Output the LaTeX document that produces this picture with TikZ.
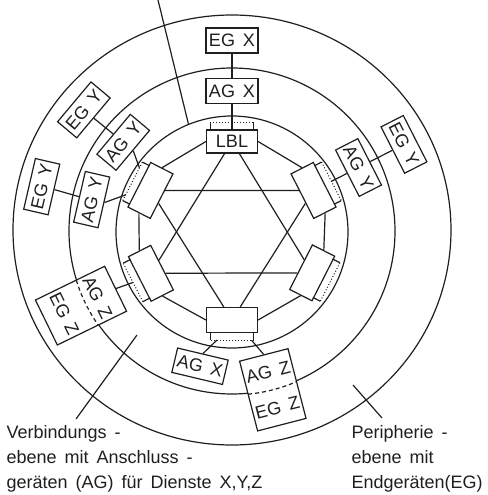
\documentclass[tikz,border=0pt]{standalone}
\usepackage{fontspec}
\setmainfont[WordSpace=1.6]{Liberation Sans}
\usetikzlibrary{calc}
\begin{document}
\begin{tikzpicture}[x=1bp,y=1bp,line width=1.2bp,
  ink/.style={draw=black!88},
  hexbox/.style={draw=black!88,fill=white,minimum width=50bp,minimum height=25bp,inner sep=0pt},
  stripbox/.style={draw=none,minimum width=42bp,minimum height=7bp,inner sep=0pt},
  agbox/.style={draw=black!88,fill=white,minimum width=52bp,minimum height=25bp,inner sep=0pt,
    font=\fontsize{18bp}{18bp}\selectfont,text=black!88},
  zbox/.style={draw=black!88,fill=white,minimum width=50bp,inner sep=0pt,align=center,
    font=\fontsize{18bp}{37bp}\selectfont,text=black!88},
  lbltext/.style={align=left,inner sep=0pt,font=\fontsize{18bp}{25bp}\selectfont,text=black!88},
  dotline/.style={draw=black!88,dotted,line width=1bp},
  zdash/.style={draw=black!88,dash pattern=on 4bp off 3bp}]
\useasboundingbox (-232,232) rectangle (256,-263);
\fill[white] (-232,232) rectangle (256,-263);
% rings
\draw[ink] (0,2) ellipse[x radius=219,y radius=215];
\draw[ink] (0,1) circle[radius=163];
\draw[ink] (0,0) circle[radius=116];
% hexagon boxes
\node[hexbox,minimum width=51bp,minimum height=23bp,font=\fontsize{18bp}{18bp}\selectfont,text=black!88] (LBL) at (90:90.5) {LBL};
\node[hexbox,rotate=-63] (UR) at (27:91.5) {};
\node[hexbox,rotate=-117] (LR) at (-27:90) {};
\node[hexbox,rotate=180,minimum width=51bp] (B) at (270:88) {};
\node[hexbox,rotate=117] (LL) at (207:91) {};
\node[hexbox,rotate=63] (UL) at (153:91.5) {};
% strips
\node[stripbox] (sLBL) at (90:105.5) {};
\node[stripbox,rotate=-63] (sUR) at (27:107.5) {};
\node[stripbox,rotate=-117] (sLR) at (-27:106) {};
\node[stripbox,rotate=180] (sB) at (270:104) {};
\node[stripbox,rotate=117] (sLL) at (207:107) {};
\node[stripbox,rotate=63] (sUL) at (153:107.5) {};
\foreach \s in {sLBL,sUR,sLR,sB,sLL,sUL}{
  \draw[ink] (\s.south west) -- (\s.north west);
  \draw[ink] (\s.south east) -- (\s.north east);
  \draw[dotline] (\s.north west) -- (\s.north east);
}
% hexagon ring
\draw[ink] (LBL.west) -- (UL.east);
\draw[ink] (UL.west) -- (LL.east);
\draw[ink] (LL.west) -- (B.east);
\draw[ink] (B.west) -- (LR.east);
\draw[ink] (LR.west) -- (UR.east);
\draw[ink] (UR.west) -- (LBL.east);
% star
\draw[ink] (LBL) -- (LL);
\draw[ink] (LL) -- (LR);
\draw[ink] (LR) -- (LBL);
\draw[ink] (B) -- (UL);
\draw[ink] (UL) -- (UR);
\draw[ink] (UR) -- (B);
% terminal boxes
\node[agbox] (AGX) at (90:141) {AG X};
\node[agbox] (EGX) at (90:191.5) {EG X};
\node[agbox,rotate=-63] (AGYr) at (27:142) {AG Y};
\node[agbox,rotate=-63] (EGYr) at (27:193) {EG Y};
\node[agbox,rotate=50] (AGYul) at (140.5:141) {AG Y};
\node[agbox,rotate=50] (EGYul) at (140.5:192) {EG Y};
\node[agbox,rotate=77] (AGYll) at (167:144) {AG Y};
\node[agbox,rotate=77] (EGYll) at (166.6:195.6) {EG Y};
\node[agbox,rotate=-13.4] (AGXb) at (256.6:138) {AG X};
% combined Z boxes (AG part inside, EG part outside the middle ring)
\node[zbox,rotate=-64,minimum height=77bp] (ZL) at (206:168) {AG Z\\EG Z};
\draw[zdash] (197.2:163) arc[start angle=197.2,end angle=214.8,radius=163];
\node[zbox,rotate=14.5,minimum height=72bp] (ZR) at (284.5:163) {AG Z\\EG Z};
\draw[zdash] (275.7:163) arc[start angle=275.7,end angle=293.3,radius=163];
% connectors
\draw[ink] (LBL.north) -- (AGX.south);
\draw[ink] (AGX.north) -- (EGX.south);
\draw[ink] (sUR.north) -- (AGYr.south);
\draw[ink] (AGYr.north) -- (EGYr.south);
\draw[ink] (AGYul.south) -- ($(sUL.north)!0.7!(sUL.north east)$);
\draw[ink] (AGYul.north) -- (EGYul.south);
\draw[ink] (AGYll.south) -- ($(sUL.north)!0.7!(sUL.north west)$);
\draw[ink] (AGYll.north) -- (EGYll.south);
\draw[ink] (sLL.north) -- (ZL.north);
\draw[ink] ($(sB.north)!0.7!(sB.north east)$) -- (AGXb.north);
\draw[ink] ($(sB.north)!0.9!(sB.north west)$) -- (ZR.north);
% leader lines and captions
\coordinate (ptop) at (-74,232);
\coordinate (ptopend) at (112:116);
\draw[ink] (ptop) -- (ptopend);
\node[lbltext,anchor=north west] (TV) at (-226,-193) {Verbindungs -\\ebene mit Anschluss -\\geräten (AG) für Dienste X,Y,Z};
\node[lbltext,anchor=north west] (TP) at (119,-193) {Peripherie -\\ebene mit\\Endgeräten(EG)};
\coordinate (pv1) at (-95,-103);
\coordinate (pv2) at (-156,-187);
\draw[ink] (pv1) -- (pv2);
\coordinate (pp1) at (121,-153);
\coordinate (pp2) at (150,-186);
\draw[ink] (pp1) -- (pp2);
\end{tikzpicture}
\end{document}
